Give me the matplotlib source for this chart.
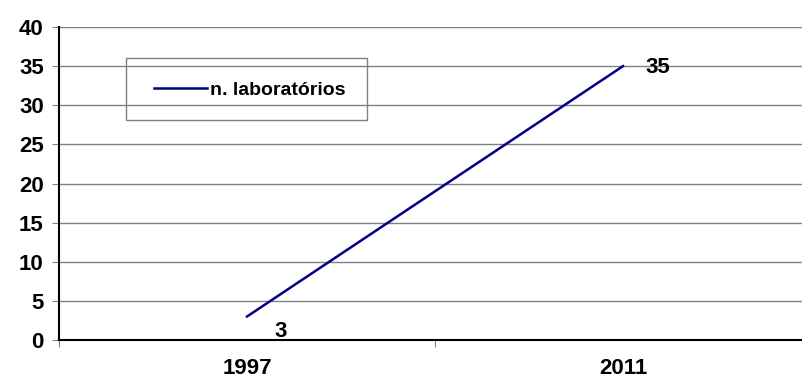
import matplotlib
matplotlib.use('Agg')
import matplotlib.pyplot as plt
from matplotlib.lines import Line2D
from matplotlib.patches import Rectangle

plt.rcParams['font.family'] = ['Liberation Sans', 'DejaVu Sans']
plt.rcParams['font.weight'] = 'bold'

anos = ['1997', '2011']
laboratorios = [3, 35]
serie_nome = 'n. laboratórios'

W, H = 802, 380
fig = plt.figure(figsize=(W / 100, H / 100), dpi=100)
ax = fig.add_axes([59 / W, 1 - 340 / H, 752 / W, 313 / H])

pos = [0.5, 1.5]
ax.plot(pos, laboratorios, color='#000080', linewidth=1.8)

# value labels next to each point
ax.text(pos[0] + 0.072, laboratorios[0] - 2.6, str(laboratorios[0]), fontsize=16,
        fontweight='bold', va='baseline', ha='left')
ax.text(pos[1] + 0.061, laboratorios[1] - 0.9, str(laboratorios[1]), fontsize=16,
        fontweight='bold', va='baseline', ha='left')

ax.set_xlim(0, 2)
ax.set_ylim(0, 40)
ax.set_yticks(range(0, 41, 5))
ax.set_yticklabels([str(v) for v in range(0, 41, 5)], fontsize=16, fontweight='bold')
ax.yaxis.grid(True, color='#808080', linewidth=1)
ax.set_axisbelow(True)

# category boundaries carry the tick marks, labels sit in between
ax.set_xticks([0, 1, 2])
ax.set_xticklabels([])
ax.set_xticks(pos, minor=True)
ax.set_xticklabels(anos, minor=True, fontsize=16, fontweight='bold')
ax.tick_params(axis='x', which='minor', length=0, pad=13)
ax.tick_params(axis='x', which='major', length=5, color='#808080')
ax.tick_params(axis='y', length=5, color='#808080', pad=6)

for s in ['top', 'right']:
    ax.spines[s].set_visible(False)
ax.spines['left'].set_color('black')
ax.spines['left'].set_linewidth(1.5)
ax.spines['bottom'].set_color('black')
ax.spines['bottom'].set_linewidth(1.5)

# legend box (no fill, gridlines show through)
fig.patches.append(Rectangle((126 / W, 1 - 120 / H), 241 / W, 62 / H,
                             transform=fig.transFigure, fill=False,
                             edgecolor='#808080', linewidth=1, zorder=5))
handle = Line2D([], [], color='#000080', linewidth=1.8)
fig.legend([handle], [serie_nome], loc='center left',
           bbox_to_anchor=(154 / W, 1 - 90 / H), bbox_transform=fig.transFigure,
           prop={'size': 14, 'weight': 'bold'}, frameon=False,
           handlelength=2.75, handletextpad=0.15, borderpad=0, borderaxespad=0)

fig.savefig('out.png', dpi=100)
